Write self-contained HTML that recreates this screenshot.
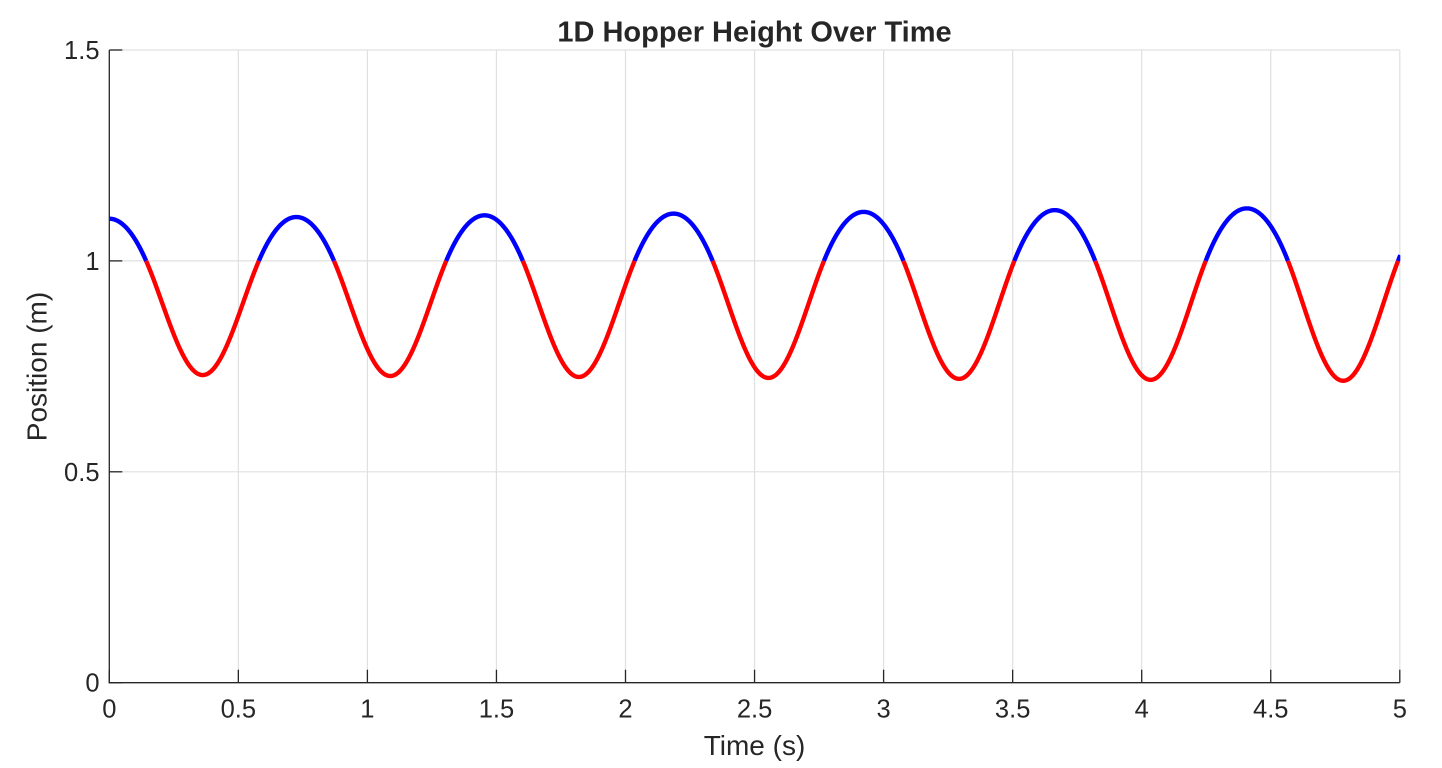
<!DOCTYPE html>
<html>
<head>
<meta charset="utf-8">
<style>
  html,body{margin:0;padding:0;background:#fff;}
  svg{display:block;}
  text{font-family:"Liberation Sans",Arial,Helvetica,sans-serif;fill:#262626;}
</style>
</head>
<body>
<svg id="chart" width="1442" height="768" viewBox="0 0 1442 768" xmlns="http://www.w3.org/2000/svg">
  <rect x="0" y="0" width="1442" height="768" fill="#ffffff"/>
  <defs>
    <clipPath id="clip"><rect x="109.3" y="49" width="1291" height="634"/></clipPath>
  </defs>
  <g id="grid" stroke="#e0e0e0" stroke-width="1.2" fill="none"></g>
  <g id="curve" clip-path="url(#clip)" fill="none" stroke-width="4.4" stroke-linejoin="round" stroke-linecap="butt"></g>
  <g id="axes" stroke="#262626" stroke-width="1.3" fill="none"></g>
  <g id="labels"></g>
  <text x="754.5" y="41.5" font-size="29" font-weight="bold" text-anchor="middle">1D Hopper Height Over Time</text>
  <text x="754.5" y="755" font-size="28" text-anchor="middle">Time (s)</text>
  <text transform="translate(46.5,366.5) rotate(-90)" font-size="28" text-anchor="middle">Position (m)</text>
</svg>
<script>
(function(){
  var NS="http://www.w3.org/2000/svg";
  var X0=109.3, SX=258.1, Y0=682.7, SY=421.8;
  function X(t){return X0+t*SX;}
  function Y(v){return Y0-v*SY;}
  function el(name,attrs,parent,txt){
    var e=document.createElementNS(NS,name);
    for(var k in attrs) e.setAttribute(k,attrs[k]);
    if(txt!==undefined) e.textContent=txt;
    parent.appendChild(e); return e;
  }
  var grid=document.getElementById('grid');
  var axes=document.getElementById('axes');
  var labels=document.getElementById('labels');
  var xt=[0,0.5,1,1.5,2,2.5,3,3.5,4,4.5,5];
  var xl=['0','0.5','1','1.5','2','2.5','3','3.5','4','4.5','5'];
  var yt=[0,0.5,1,1.5], yl=['0','0.5','1','1.5'];
  xt.forEach(function(t,i){
    var x=X(t);
    if(i>0) el('line',{x1:x,y1:Y(1.5),x2:x,y2:Y(0)},grid);
    el('line',{x1:x,y1:Y0,x2:x,y2:Y0-13},axes);
    el('text',{x:x,y:717.3,'font-size':'25.5','text-anchor':'middle'},labels,xl[i]);
  });
  yt.forEach(function(v,i){
    var y=Y(v);
    if(i>0) el('line',{x1:X(0),y1:y,x2:X(5),y2:y},grid);
    el('line',{x1:X0,y1:y,x2:X0+13,y2:y},axes);
    el('text',{x:99.5,y:y+9,'font-size':'25.5','text-anchor':'end'},labels,yl[i]);
  });
  el('line',{x1:X0,y1:Y(1.5),x2:X0,y2:Y0+0.6},axes);
  el('line',{x1:X0-0.6,y1:Y0,x2:X(5),y2:Y0},axes);

  // simulate hopper
  var g=9.81, w2=99.3, F=0.145;
  var y=1.1, v=0, t=0, dt=0.0001;
  var segs=[]; var cur={c:'b',pts:[[0,1.1]]};
  var step=0;
  while(t<5.002){
    var a = (y>=1) ? -g : (-g + w2*(1-y) + (v>0?F:0));
    v+=a*dt; y+=v*dt; t+=dt; step++;
    var ph = (y>=1)?'b':'r';
    if(ph!==cur.c){
      cur.pts.push([t,1]);
      segs.push(cur);
      cur={c:ph,pts:[[t,1]]};
    } else if(step%15===0){
      cur.pts.push([t,y]);
    }
  }
  cur.pts.push([t,y]);
  segs.push(cur);
  var cg=document.getElementById('curve');
  segs.forEach(function(s){
    var d='';
    s.pts.forEach(function(p,i){
      d+=(i?'L':'M')+X(p[0]).toFixed(2)+' '+Y(p[1]).toFixed(2);
    });
    el('path',{d:d,stroke:(s.c==='b'?'#0000ff':'#ff0000')},cg);
  });
})();
</script>
</body>
</html>
